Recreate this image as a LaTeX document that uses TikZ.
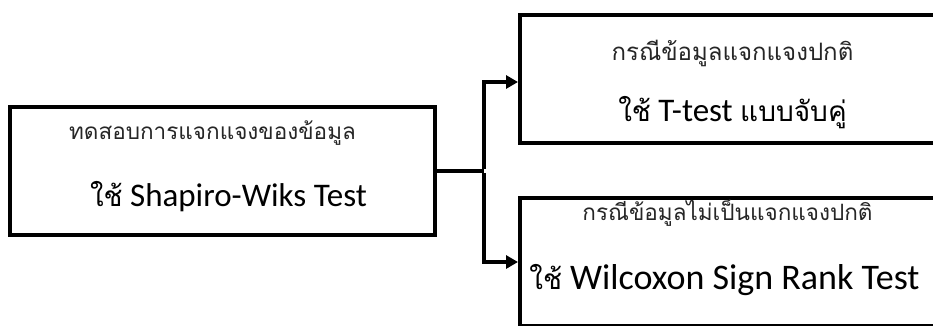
\documentclass[tikz,border=0pt]{standalone}
\usepackage{fontspec}
\setmainfont{Carlito}
\newfontfamily\thai[Script=Thai]{Loma}
\newcommand\thaiS{\thai\fontsize{28}{34}\selectfont}
\usetikzlibrary{arrows.meta}
\tikzset{
  box/.style={draw=black, line width=4pt, minimum width=425pt, minimum height=128pt, inner sep=0pt},
  conn/.style={line width=4pt},
  arr/.style={conn, -{Triangle[length=12pt,width=13pt]}},
  thline/.style={font=\thai\fontsize{22.5}{26}\selectfont, text=black!85, inner sep=0pt},
  enline/.style={font=\fontsize{33}{38}\selectfont, inner sep=0pt},
}
\begin{document}
\begin{tikzpicture}[x=1pt,y=-1pt]
\useasboundingbox (0,0) rectangle (933,325);
\clip (0,0) rectangle (933,325);
\fill[white] (0,0) rectangle (933,325);
\node[box] (left) at (222.5,171) {};
\node[box] (top) at (732.5,79) {};
\node[box] (bot) at (732.5,262) {};
\node[thline] (l1) at ([yshift=38,xshift=-10]left.center) {ทดสอบการแจกแจงของข้อมูล};
\node[enline] (l2) at ([yshift=-26,xshift=6]left.center) {{\thaiS ใช้} Shapiro-Wiks Test};
\node[thline, font=\thai\fontsize{24}{28}\selectfont] (t1) at ([yshift=26]top.center) {กรณีข้อมูลแจกแจงปกติ};
\node[enline] (t2) at ([yshift=-34]top.center) {{\thaiS ใช้} T-test {\thaiS แบบจับคู่}};
\node[thline] (b1) at ([yshift=49,xshift=-5]bot.center) {กรณีข้อมูลไม่เป็นแจกแจงปกติ};
\node[enline, font=\fontsize{36}{40}\selectfont] (b2) at ([yshift=-18,xshift=-8]bot.center) {{\thaiS ใช้} Wilcoxon Sign Rank Test};
\draw[conn] (left.east) -- ++(47,0) coordinate (j);
\draw[arr] ([yshift=2]j) |- ([yshift=-3]top.west);
\draw[arr] ([yshift=-2]j) |- (bot.west);
\end{tikzpicture}
\end{document}
